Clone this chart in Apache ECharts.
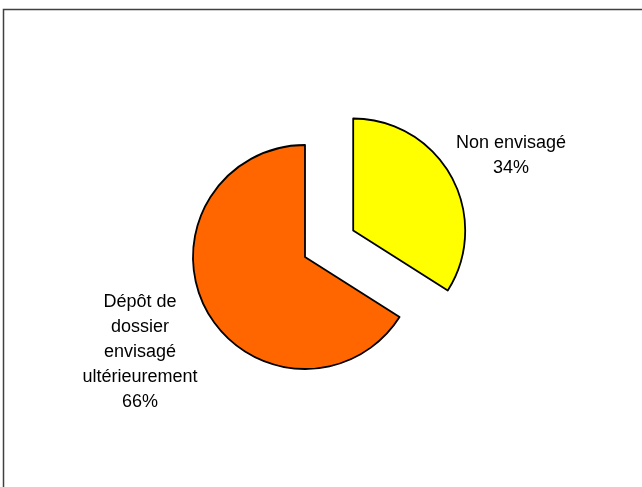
<!DOCTYPE html>
<html>
<head>
<meta charset="utf-8">
<style>
  html, body { margin: 0; padding: 0; background: #fff; }
  #chart { width: 642px; height: 487px; }
</style>
<script src="https://cdn.jsdelivr.net/npm/echarts@6/dist/echarts.min.js"></script>
</head>
<body>
<div id="chart"></div>
<script>
// Categories and their shares (percent)
const categories = ['Non envisagé', 'Dépôt de\ndossier\nenvisagé\nultérieurement'];
const values = [34, 66];
const colors = ['#FFFF00', '#FF6600'];
// Only the first slice is pulled out of the pie
const exploded = [true, false];

// Where each label block is centred
const labelCentres = [[511, 156], [140, 352]];

const chart = echarts.init(document.getElementById('chart'), null, { renderer: 'canvas' });

const sliceData = categories.map((name, i) => ({
  name: name,
  value: values[i],
  selected: exploded[i],
  itemStyle: { color: colors[i] },
  select: { itemStyle: { color: colors[i], borderColor: '#000', borderWidth: 1.8 } }
}));

// Same values, used only to carry the text labels
const labelData = categories.map((name, i) => ({ name: name, value: values[i] }));

chart.setOption({
  animation: false,
  backgroundColor: '#fff',
  graphic: [{
    type: 'rect',
    silent: true,
    shape: { x: 3.5, y: 9.5, width: 700, height: 600 },
    style: { fill: 'none', stroke: '#404040', lineWidth: 1.5 }
  }],
  series: [{
    type: 'pie',
    center: [305, 257],
    radius: 112,
    startAngle: 90,
    clockwise: true,
    selectedMode: 'multiple',
    selectedOffset: 55,
    emphasis: { disabled: true },
    itemStyle: { borderColor: '#000', borderWidth: 1.8 },
    label: { show: false },
    labelLine: { show: false },
    data: sliceData
  }, {
    type: 'pie',
    silent: true,
    center: [305, 257],
    radius: 112,
    startAngle: 90,
    clockwise: true,
    percentPrecision: 0,
    avoidLabelOverlap: false,
    emphasis: { disabled: true },
    itemStyle: { color: 'rgba(0,0,0,0)', borderWidth: 0 },
    z: 1,
    label: {
      show: true,
      position: 'outside',
      formatter: '{b}\n{d}%',
      color: '#000',
      fontFamily: '"Liberation Sans", Arial, sans-serif',
      fontSize: 18,
      lineHeight: 25,
      align: 'center'
    },
    labelLine: { show: false },
    labelLayout: function (params) {
      const c = labelCentres[params.dataIndex];
      return { x: c[0], y: c[1], align: 'center', verticalAlign: 'middle' };
    },
    data: labelData
  }]
});
</script>
</body>
</html>
